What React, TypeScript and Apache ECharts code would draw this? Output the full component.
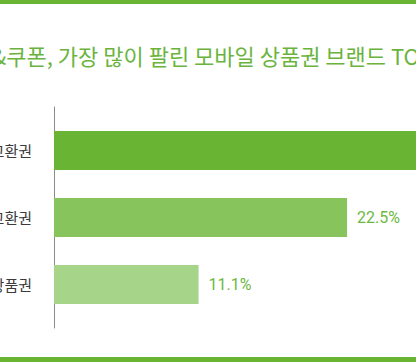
import React, { useEffect, useRef } from "react";
import * as echarts from "echarts";

const titleText = "모바일 교환권&쿠폰, 가장 많이 팔린 모바일 상품권 브랜드 TOP3";
const categories = ["커피 교환권", "편의점 교환권", "백화점 상품권"];
const values = [34.6, 22.5, 11.1];
const barColors = ["#6ab434", "#88c45c", "#a6d58a"];

const OFFSET = 150; // chart is shifted left so the view shows the same crop
const W = 816;
const H = 362;

export default function App() {
  const ref = useRef<HTMLDivElement>(null);
  useEffect(() => {
    if (!ref.current) return;
    const chart = echarts.init(ref.current, undefined, { renderer: "svg" });
    const gridLeft = 54 + OFFSET;
    const gridWidth = 521;
    chart.setOption({
      animation: false,
      backgroundColor: "#ffffff",
      grid: [
        { left: gridLeft, width: gridWidth, top: 117, bottom: 44, containLabel: false },
        { left: gridLeft, width: gridWidth, top: 107, bottom: 34, containLabel: false },
      ],
      xAxis: [
        { type: "value", gridIndex: 0, min: 0, max: 40, show: false },
        { type: "value", gridIndex: 1, min: 0, max: 40, show: false },
      ],
      yAxis: [
        {
          type: "category",
          gridIndex: 0,
          data: categories,
          inverse: true,
          axisLine: { show: false },
          axisTick: { show: false },
          axisLabel: {
            margin: 22,
            color: "#3a3a3a",
            fontSize: 15,
            fontFamily: "Noto Sans CJK KR",
          },
        },
        {
          type: "category",
          gridIndex: 1,
          data: [],
          axisLine: { show: true, lineStyle: { color: "#8c8c8c", width: 1 } },
          axisTick: { show: false },
          axisLabel: { show: false },
        },
      ],
      series: [
        {
          type: "bar",
          xAxisIndex: 0,
          yAxisIndex: 0,
          barWidth: 39,
          data: values.map((v, i) => ({ value: v, itemStyle: { color: barColors[i] } })),
          label: {
            show: true,
            position: "right",
            distance: 10,
            formatter: "{c}%",
            color: "#6cb940",
            fontSize: 16,
            fontFamily: "Roboto, Noto Sans CJK KR",
          },
        },
      ],
      graphic: [
        { type: "rect", shape: { x: 0, y: 0, width: W, height: 4 }, style: { fill: "#6ab434" } },
        { type: "rect", shape: { x: 0, y: 357, width: W, height: 5 }, style: { fill: "#6ab434" } },
        {
          type: "text",
          x: OFFSET - 135,
          y: 55,
          style: {
            text: titleText,
            fill: "#6ab43e",
            fontSize: 22,
            fontFamily: "Noto Sans CJK KR",
            align: "left",
            verticalAlign: "middle",
          },
        },
      ],
    });
    return () => chart.dispose();
  }, []);
  return (
    <div
      ref={ref}
      style={{ position: "fixed", left: -OFFSET, top: 0, width: W, height: H }}
    />
  );
}
